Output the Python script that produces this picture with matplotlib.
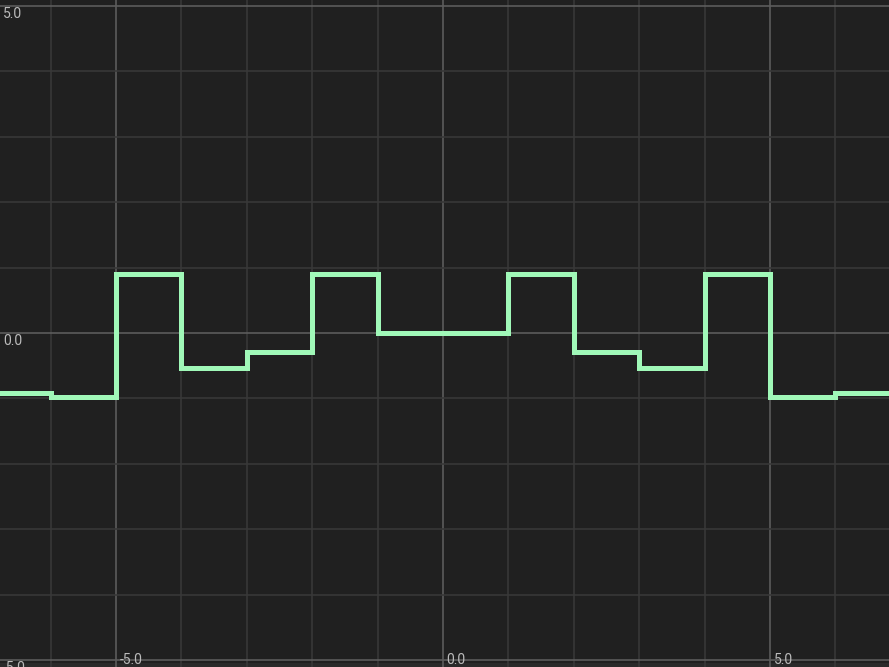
import matplotlib
matplotlib.use('Agg')
import matplotlib.pyplot as plt
import numpy as np

# step edges and level values
edges = [-7, -6, -5, -4, -3, -2, -1, 1, 2, 3, 4, 5, 6, 7]
levels = [-0.92, -0.98, 0.90, -0.54, -0.29, 0.90, 0.0, 0.90, -0.29, -0.54, 0.90, -0.98, -0.92]

x_ticks = [-5.0, 0.0, 5.0]
y_ticks = [5.0, 0.0, -5.0]

bg = '#202020'
grid_c = '#383838'
axis_c = '#5c5c5c'
line_c = '#a0f8b8'
text_c = '#bcbcbc'

plt.rcParams['font.family'] = ['Roboto', 'DejaVu Sans']

fig = plt.figure(figsize=(8.89, 6.67), dpi=100, facecolor=bg)
ax = fig.add_axes([0, 0, 1, 1])
ax.set_facecolor(bg)
ax.set_xlim(-6.774, 6.82)
ax.set_ylim(-5.107, 5.092)
for s in ax.spines.values():
  s.set_visible(False)
ax.set_xticks([])
ax.set_yticks([])

# strip below the bottom gridline
ax.axhspan(-5.2, -5.04, color='#2a2a2a', zorder=0, lw=0)

for gx in range(-6, 7):
  ax.axvline(gx, color=axis_c if gx in (-5, 0, 5) else grid_c, lw=1.2, zorder=1)
for gy in range(-5, 6):
  ax.axhline(gy, color=axis_c if gy in (-5, 0, 5) else grid_c, lw=1.2, zorder=1)

ax.stairs(levels, edges, color=line_c, lw=3.6, zorder=3)

for xt in x_ticks:
  ax.annotate(f'{xt:.1f}', (xt, -5), xytext=(2.5, 0), textcoords='offset points',
              color=text_c, fontsize=10, ha='left', va='center', zorder=4)
for yt in y_ticks:
  ax.annotate(f'{yt:.1f}', (-6.774, yt), xytext=(2, -0.5), textcoords='offset points',
              color=text_c, fontsize=10, ha='left', va='top', zorder=4)

plt.savefig('out.png', dpi=100, facecolor=bg)
